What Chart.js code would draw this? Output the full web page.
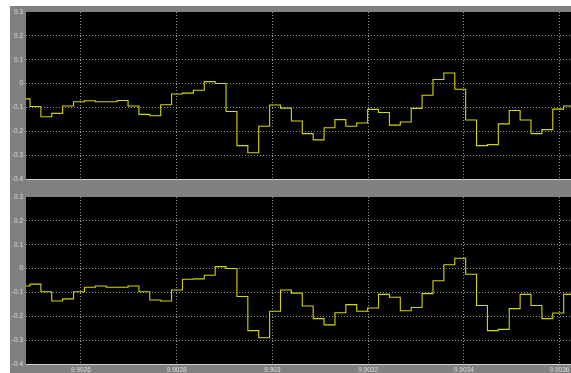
<!DOCTYPE html>
<html><head><meta charset="utf-8">
<script src="https://cdn.jsdelivr.net/npm/chart.js@4"></script>
<style>
html,body{margin:0;padding:0;background:#fff;width:571px;height:373px;overflow:hidden;}
#bg{position:absolute;left:10px;top:6px;width:561px;height:367px;background:#808080;}
canvas{position:absolute;left:0;top:0;}
</style></head><body>
<div id="bg"></div>
<canvas id="c2" width="571" height="373"></canvas>
<canvas id="c1" width="571" height="186"></canvas>
<script>
const xTicks = [9.9026, 9.9028, 9.903, 9.9032, 9.9034, 9.9036];
const xTickLabels = ['9.9026', '9.9028', '9.903', '9.9032', '9.9034', '9.9036'];
const yTicks = [0.3, 0.2, 0.1, 0, -0.1, -0.2, -0.3, -0.4];
const yTickLabels = ['0.3', '0.2', '0.1', '0', '-0.1', '-0.2', '-0.3', '-0.4'];
const xMin = 9.9024851, xMax = 9.903624;
const sampleStart = 9.9024707;
const samplePeriod = 2.276e-5;

const topSignal = [-0.064, -0.096, -0.139, -0.125, -0.094, -0.076, -0.072, -0.076, -0.076, -0.071,
  -0.094, -0.129, -0.135, -0.089, -0.044, -0.040, -0.028, 0.008, 0.000, -0.117,
  -0.260, -0.290, -0.179, -0.090, -0.103, -0.157, -0.210, -0.236, -0.185, -0.151,
  -0.179, -0.165, -0.108, -0.121, -0.174, -0.161, -0.104, -0.049, 0.017, 0.044,
  -0.024, -0.153, -0.260, -0.256, -0.169, -0.113, -0.153, -0.210, -0.193, -0.107, -0.094];

const bottomSignal = [-0.073, -0.065, -0.097, -0.136, -0.127, -0.097, -0.078, -0.073, -0.078, -0.078,
  -0.073, -0.097, -0.132, -0.136, -0.090, -0.045, -0.043, -0.028, 0.008, 0.000,
  -0.117, -0.260, -0.290, -0.179, -0.090, -0.103, -0.157, -0.210, -0.236, -0.185,
  -0.151, -0.179, -0.165, -0.108, -0.120, -0.177, -0.163, -0.105, -0.051, 0.016,
  0.043, -0.024, -0.155, -0.260, -0.255, -0.168, -0.108, -0.155, -0.210, -0.186, -0.108];

function toPoints(sig) {
  const pts = sig.map((v, i) => ({x: sampleStart + i * samplePeriod, y: v}));
  pts.push({x: xMax + samplePeriod, y: sig[sig.length - 1]});
  return pts;
}

const bgPlugin = {
  id: 'plotbg',
  beforeDraw(c) {
    const a = c.chartArea, ctx = c.ctx;
    ctx.save();
    ctx.fillStyle = '#000';
    ctx.fillRect(a.left, a.top, a.right - a.left, a.bottom - a.top);
    ctx.restore();
  }
};

const labelFont = {family: "'Liberation Sans', Arial, sans-serif", size: 6.5};
const gridColor = ctx => (ctx.tick && Math.abs(ctx.tick.value - 0.3) < 1e-9) ? 'rgba(0,0,0,0)' : '#969696';

function makeChart(id, signal, padTop, padBottom, showX) {
  return new Chart(document.getElementById(id), {
    type: 'line',
    data: {datasets: [{data: toPoints(signal), borderColor: '#d6d600', borderWidth: 1.1,
      pointRadius: 0, stepped: true, fill: false, tension: 0}]},
    options: {
      responsive: false, animation: false, devicePixelRatio: 1,
      layout: {padding: {left: 10, top: padTop, right: 0, bottom: padBottom}},
      plugins: {legend: {display: false}, tooltip: {enabled: false}},
      scales: {
        x: {
          type: 'linear', min: xMin, max: xMax,
          afterBuildTicks: s => { s.ticks = xTicks.map(v => ({value: v})); },
          afterFit: s => { s.height = showX ? 9 : 0; s.paddingLeft = 0; s.paddingRight = 0; },
          ticks: {display: showX, autoSkip: false, maxRotation: 0, padding: 2, color: '#dcdcdc',
            font: labelFont, callback: (v, i) => xTickLabels[i]},
          grid: {color: '#969696', lineWidth: 1, drawTicks: false},
          border: {display: true, color: '#d0d0d0', width: 1, dash: [1, 2]}
        },
        y: {
          type: 'linear', min: -0.4, max: 0.3,
          afterBuildTicks: s => { s.ticks = yTicks.map(v => ({value: v})); },
          afterFit: s => { s.width = 16; s.paddingTop = 0; s.paddingBottom = 0; },
          ticks: {autoSkip: false, padding: 3, color: '#dcdcdc', font: labelFont,
            callback: (v, i) => yTickLabels[i]},
          grid: {color: gridColor, lineWidth: 1, drawTicks: false},
          border: {display: false, dash: [1, 2]}
        }
      }
    },
    plugins: [bgPlugin]
  });
}

makeChart('c2', bottomSignal, 197, 0, true);
makeChart('c1', topSignal, 12, 7, false);
</script>
</body></html>
